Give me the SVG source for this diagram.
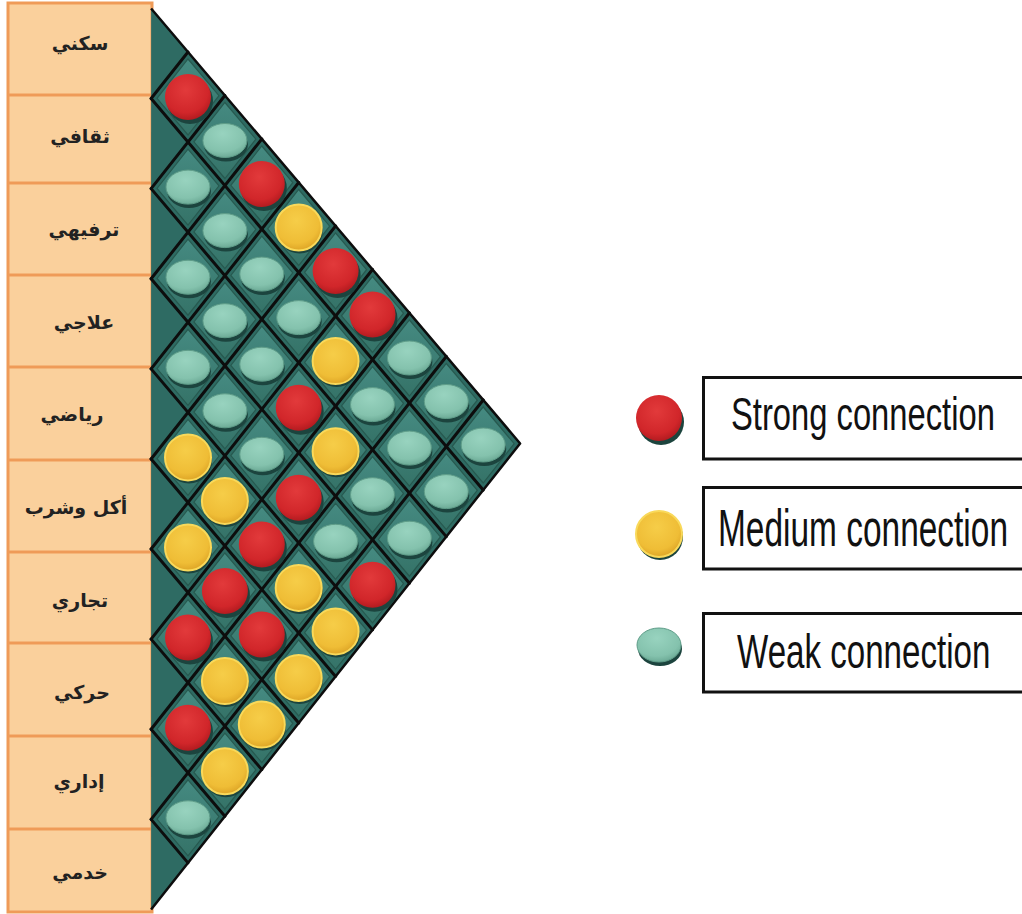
<svg xmlns="http://www.w3.org/2000/svg" xmlns:xlink="http://www.w3.org/1999/xlink" width="1022" height="914" viewBox="0 0 1022 914">
<style>
.lbl{font-family:"DejaVu Sans","Noto Sans",sans-serif;font-size:19px;font-weight:bold;fill:#222;text-anchor:middle}
.leg{font-family:"Liberation Sans",Arial,sans-serif;fill:#111}
.box{fill:none;stroke:#111;stroke-width:3}
.grid line{stroke:#0d0d0d;stroke-width:3;stroke-linecap:round}
</style>
<defs>
<radialGradient id="gR" cx="0.45" cy="0.35" r="0.7"><stop offset="0" stop-color="#e23a3b"/><stop offset="0.7" stop-color="#d1262a"/><stop offset="1" stop-color="#aa181d"/></radialGradient>
<radialGradient id="gY" cx="0.45" cy="0.35" r="0.7"><stop offset="0" stop-color="#f6cd48"/><stop offset="0.7" stop-color="#efbd36"/><stop offset="1" stop-color="#d99e22"/></radialGradient>
<radialGradient id="gT" cx="0.45" cy="0.3" r="0.75"><stop offset="0" stop-color="#98d3bf"/><stop offset="0.7" stop-color="#84c2ad"/><stop offset="1" stop-color="#66a490"/></radialGradient>
<linearGradient id="gCell" x1="0" y1="0" x2="0" y2="1"><stop offset="0" stop-color="#458a81"/><stop offset="1" stop-color="#357368"/></linearGradient>
<polygon id="cellIn" points="0,-38 31,-1.3 0,38 -31,1.3" fill="url(#gCell)" stroke="#27594f" stroke-width="1.2"/>
<g id="R"><circle cx="2" cy="4" r="23" fill="#1c443e"/><circle r="23" fill="url(#gR)"/></g>
<g id="Y"><circle cx="1" cy="3" r="23" fill="#1c443e"/><circle r="23" fill="url(#gY)" stroke="#f9d95a" stroke-width="2"/></g>
<g id="T"><ellipse cx="1" cy="4" rx="22" ry="17" fill="#1c443e"/><ellipse rx="22" ry="17" fill="url(#gT)" stroke="#5f9d89" stroke-width="1"/></g>
</defs>
<rect width="1022" height="914" fill="#fff"/>

<!-- label column -->
<g id="labels">
<rect x="8" y="3" width="144" height="909" fill="#fad09c" stroke="#ef9b58" stroke-width="3"/>
<g stroke="#ef9b58" stroke-width="3">
<line x1="8" y1="95" x2="152" y2="95"/><line x1="8" y1="183" x2="152" y2="183"/><line x1="8" y1="275" x2="152" y2="275"/><line x1="8" y1="367" x2="152" y2="367"/><line x1="8" y1="460" x2="152" y2="460"/><line x1="8" y1="552" x2="152" y2="552"/><line x1="8" y1="643" x2="152" y2="643"/><line x1="8" y1="736" x2="152" y2="736"/><line x1="8" y1="829" x2="152" y2="829"/>
</g>
<g id="l0"><text class="lbl" x="80" y="50">سكني</text></g>
<g id="l1"><text class="lbl" x="80" y="143">ثقافي</text></g>
<g id="l2"><text class="lbl" x="84" y="236">ترفيهي</text></g>
<g id="l3"><text class="lbl" x="84" y="329">علاجي</text></g>
<g id="l4"><text class="lbl" x="72" y="421">رياضي</text></g>
<g id="l5"><text class="lbl" x="76" y="514">أكل وشرب</text></g>
<g id="l6"><text class="lbl" x="80" y="607">تجاري</text></g>
<g id="l7"><text class="lbl" x="82" y="699">حركي</text></g>
<g id="l8"><text class="lbl" x="79" y="788">إداري</text></g>
<g id="l9"><text class="lbl" x="80" y="879">خدمي</text></g>
</g>

<!-- triangle background -->
<polygon id="tri" points="151.1,8.45 520.1,443.45 151.1,909.45" fill="#2e6b63"/>

<!-- raised cells -->
<g id="cells">
<use href="#cellIn" x="188" y="97"/><use href="#cellIn" x="224.9" y="140.5"/><use href="#cellIn" x="261.8" y="184"/><use href="#cellIn" x="298.7" y="227.5"/><use href="#cellIn" x="335.6" y="271"/><use href="#cellIn" x="372.5" y="314.5"/><use href="#cellIn" x="409.4" y="358"/><use href="#cellIn" x="446.3" y="401.5"/><use href="#cellIn" x="483.2" y="445"/>
<use href="#cellIn" x="188" y="187.1"/><use href="#cellIn" x="224.9" y="230.6"/><use href="#cellIn" x="261.8" y="274.1"/><use href="#cellIn" x="298.7" y="317.6"/><use href="#cellIn" x="335.6" y="361.1"/><use href="#cellIn" x="372.5" y="404.6"/><use href="#cellIn" x="409.4" y="448.1"/><use href="#cellIn" x="446.3" y="491.6"/>
<use href="#cellIn" x="188" y="277.2"/><use href="#cellIn" x="224.9" y="320.7"/><use href="#cellIn" x="261.8" y="364.2"/><use href="#cellIn" x="298.7" y="407.7"/><use href="#cellIn" x="335.6" y="451.2"/><use href="#cellIn" x="372.5" y="494.7"/><use href="#cellIn" x="409.4" y="538.2"/>
<use href="#cellIn" x="188" y="367.3"/><use href="#cellIn" x="224.9" y="410.8"/><use href="#cellIn" x="261.8" y="454.3"/><use href="#cellIn" x="298.7" y="497.8"/><use href="#cellIn" x="335.6" y="541.3"/><use href="#cellIn" x="372.5" y="584.8"/>
<use href="#cellIn" x="188" y="457.4"/><use href="#cellIn" x="224.9" y="500.9"/><use href="#cellIn" x="261.8" y="544.4"/><use href="#cellIn" x="298.7" y="587.9"/><use href="#cellIn" x="335.6" y="631.4"/>
<use href="#cellIn" x="188" y="547.5"/><use href="#cellIn" x="224.9" y="591"/><use href="#cellIn" x="261.8" y="634.5"/><use href="#cellIn" x="298.7" y="678"/>
<use href="#cellIn" x="188" y="637.6"/><use href="#cellIn" x="224.9" y="681.1"/><use href="#cellIn" x="261.8" y="724.6"/>
<use href="#cellIn" x="188" y="727.7"/><use href="#cellIn" x="224.9" y="771.2"/>
<use href="#cellIn" x="188" y="817.8"/>
</g>

<!-- connectors: grid lines -->
<g id="connectors" class="grid">
<line x1="151.1" y1="98.55" x2="483.2" y2="490.05"/>
<line x1="151.1" y1="188.65" x2="446.3" y2="536.65"/>
<line x1="151.1" y1="278.75" x2="409.4" y2="583.25"/>
<line x1="151.1" y1="368.85" x2="372.5" y2="629.85"/>
<line x1="151.1" y1="458.95" x2="335.6" y2="676.45"/>
<line x1="151.1" y1="549.05" x2="298.7" y2="723.05"/>
<line x1="151.1" y1="639.15" x2="261.8" y2="769.65"/>
<line x1="151.1" y1="729.25" x2="224.9" y2="816.25"/>
<line x1="151.1" y1="819.35" x2="188" y2="862.85"/>
<line x1="151.1" y1="98.55" x2="188" y2="51.95"/>
<line x1="151.1" y1="188.65" x2="224.9" y2="95.45"/>
<line x1="151.1" y1="278.75" x2="261.8" y2="138.95"/>
<line x1="151.1" y1="368.85" x2="298.7" y2="182.45"/>
<line x1="151.1" y1="458.95" x2="335.6" y2="225.95"/>
<line x1="151.1" y1="549.05" x2="372.5" y2="269.45"/>
<line x1="151.1" y1="639.15" x2="409.4" y2="312.95"/>
<line x1="151.1" y1="729.25" x2="446.3" y2="356.45"/>
<line x1="151.1" y1="819.35" x2="483.2" y2="399.95"/>
<polyline points="151.1,8.45 520.1,443.45 151.1,909.45" fill="none" stroke="#0d0d0d" stroke-width="2.5" stroke-linejoin="round"/>
</g>

<!-- connection circles (pair i-j) -->
<g id="p0-1"><use href="#R" x="188" y="97"/></g>
<g id="p0-2"><use href="#T" x="224.9" y="140.5"/></g>
<g id="p0-3"><use href="#R" x="261.8" y="184"/></g>
<g id="p0-4"><use href="#Y" x="298.7" y="227.5"/></g>
<g id="p0-5"><use href="#R" x="335.6" y="271"/></g>
<g id="p0-6"><use href="#R" x="372.5" y="314.5"/></g>
<g id="p0-7"><use href="#T" x="409.4" y="358"/></g>
<g id="p0-8"><use href="#T" x="446.3" y="401.5"/></g>
<g id="p0-9"><use href="#T" x="483.2" y="445"/></g>
<g id="p1-2"><use href="#T" x="188" y="187.1"/></g>
<g id="p1-3"><use href="#T" x="224.9" y="230.6"/></g>
<g id="p1-4"><use href="#T" x="261.8" y="274.1"/></g>
<g id="p1-5"><use href="#T" x="298.7" y="317.6"/></g>
<g id="p1-6"><use href="#Y" x="335.6" y="361.1"/></g>
<g id="p1-7"><use href="#T" x="372.5" y="404.6"/></g>
<g id="p1-8"><use href="#T" x="409.4" y="448.1"/></g>
<g id="p1-9"><use href="#T" x="446.3" y="491.6"/></g>
<g id="p2-3"><use href="#T" x="188" y="277.2"/></g>
<g id="p2-4"><use href="#T" x="224.9" y="320.7"/></g>
<g id="p2-5"><use href="#T" x="261.8" y="364.2"/></g>
<g id="p2-6"><use href="#R" x="298.7" y="407.7"/></g>
<g id="p2-7"><use href="#Y" x="335.6" y="451.2"/></g>
<g id="p2-8"><use href="#T" x="372.5" y="494.7"/></g>
<g id="p2-9"><use href="#T" x="409.4" y="538.2"/></g>
<g id="p3-4"><use href="#T" x="188" y="367.3"/></g>
<g id="p3-5"><use href="#T" x="224.9" y="410.8"/></g>
<g id="p3-6"><use href="#T" x="261.8" y="454.3"/></g>
<g id="p3-7"><use href="#R" x="298.7" y="497.8"/></g>
<g id="p3-8"><use href="#T" x="335.6" y="541.3"/></g>
<g id="p3-9"><use href="#R" x="372.5" y="584.8"/></g>
<g id="p4-5"><use href="#Y" x="188" y="457.4"/></g>
<g id="p4-6"><use href="#Y" x="224.9" y="500.9"/></g>
<g id="p4-7"><use href="#R" x="261.8" y="544.4"/></g>
<g id="p4-8"><use href="#Y" x="298.7" y="587.9"/></g>
<g id="p4-9"><use href="#Y" x="335.6" y="631.4"/></g>
<g id="p5-6"><use href="#Y" x="188" y="547.5"/></g>
<g id="p5-7"><use href="#R" x="224.9" y="591"/></g>
<g id="p5-8"><use href="#R" x="261.8" y="634.5"/></g>
<g id="p5-9"><use href="#Y" x="298.7" y="678"/></g>
<g id="p6-7"><use href="#R" x="188" y="637.6"/></g>
<g id="p6-8"><use href="#Y" x="224.9" y="681.1"/></g>
<g id="p6-9"><use href="#Y" x="261.8" y="724.6"/></g>
<g id="p7-8"><use href="#R" x="188" y="727.7"/></g>
<g id="p7-9"><use href="#Y" x="224.9" y="771.2"/></g>
<g id="p8-9"><use href="#T" x="188" y="817.8"/></g>

<!-- legend -->
<g id="legend-strong">
<use href="#R" x="659" y="418"/>
<path class="box" d="M1022,377.5 H703.5 V459 H1022"/>
<text class="leg" font-size="46" transform="matrix(0.712 0 0 1 731 430)">Strong connection</text>
</g>
<g id="legend-medium">
<use href="#Y" x="659" y="534"/>
<path class="box" d="M1022,487.5 H703.5 V569 H1022"/>
<text class="leg" font-size="51" transform="matrix(0.656 0 0 1 718 546)">Medium connection</text>
</g>
<g id="legend-weak">
<use href="#T" x="659" y="645"/>
<path class="box" d="M1022,613.5 H703.5 V692 H1022"/>
<text class="leg" font-size="48" transform="matrix(0.69 0 0 1 737 668)">Weak connection</text>
</g>
</svg>
